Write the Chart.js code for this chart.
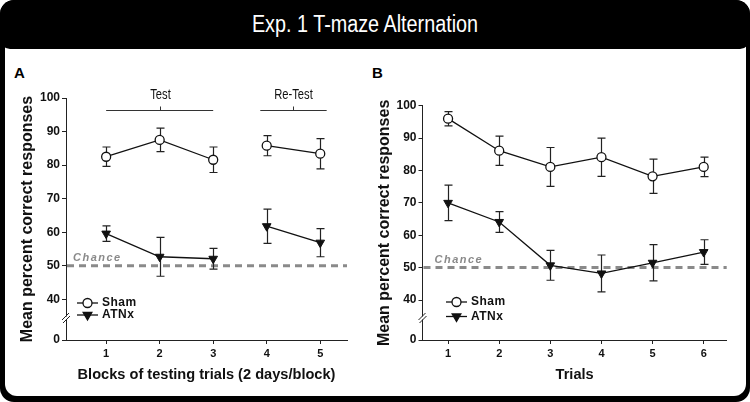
<!DOCTYPE html>
<html>
<head>
  <title>Exp. 1 T-maze Alternation</title>
  <script src="https://cdn.jsdelivr.net/npm/chart.js"></script>
  <style>
    body { margin: 0; background: #fff; }
    #frame { position: absolute; left: 0; top: 0; width: 750px; height: 402px; background: #000; border-radius: 14px; overflow: hidden; }
    #panel { position: absolute; left: 5px; top: 40px; width: 741px; height: 356px; background: #fff; border-radius: 0 0 12px 12px; }
    #titlebar { position: absolute; left: 0; top: 0; width: 750px; height: 49px; background: #000; border-radius: 14px 14px 10px 10px; }
    #titlebar span { position: absolute; left: 365px; top: 24px; white-space: nowrap; color: #fff;
      font: 23px "Liberation Sans Narrow", "Liberation Sans", Arial, sans-serif; transform: translate(-50%, -50%) scaleX(0.86); }
    canvas { position: absolute; top: 0; }
    .lbl { position: absolute; font: bold 15px "Liberation Sans", Arial, sans-serif; color: #000; }
  </style>
</head>
<body>
  <div id="frame">
    <div id="panel"></div>
    <div id="titlebar"><span>Exp. 1 T-maze Alternation</span></div>
    <div class="lbl" style="left:14px; top:64px;">A</div>
    <div class="lbl" style="left:372px; top:64px;">B</div>
    <canvas id="chartA" width="370" height="402" style="left:0px"></canvas>
    <canvas id="chartB" width="380" height="402" style="left:370px"></canvas>
  </div>

  <script>
    // panel A: blocks of testing trials
    const blocksA = [1, 2, 3, 4, 5];
    const shamA = [82.5, 87.5, 81.6, 85.8, 83.4];
    const shamSemA = [2.9, 3.5, 3.8, 3.0, 4.5];
    const atnxA = [59.6, 52.7, 52.1, 61.8, 56.9];
    const atnxSemA = [2.3, 5.8, 3.1, 5.1, 4.2];

    // panel B: trials
    const trialsB = [1, 2, 3, 4, 5, 6];
    const shamB = [96.0, 86.1, 81.1, 84.1, 78.2, 81.1];
    const shamSemB = [2.2, 4.5, 6.0, 5.9, 5.3, 3.0];
    const atnxB = [70.0, 64.1, 50.7, 48.2, 51.5, 54.8];
    const atnxSemB = [5.5, 3.2, 4.6, 5.7, 5.6, 3.8];

    const yTicks = [40, 50, 60, 70, 80, 90, 100];
    const chanceLevel = 50;
    const seriesNames = ["Sham", "ATNx"];

    const bracketLabels = ["Test", "Re-Test"];
    const bracketStart = [1, 3.88];
    const bracketEnd = [3, 5.12];

    const FONT = '"Liberation Sans", Arial, Helvetica, sans-serif';
    const INK = "#111";

    function drawMarker(ctx, style, x, y) {
      ctx.lineWidth = 1.3;
      ctx.strokeStyle = INK;
      ctx.beginPath();
      if (style === "circle") {
        ctx.fillStyle = "#fff";
        ctx.arc(x, y, 4.5, 0, Math.PI * 2);
      } else {
        const r = 5;
        ctx.fillStyle = INK;
        ctx.moveTo(x, y + r);
        ctx.lineTo(x - r * 0.866, y - r / 2);
        ctx.lineTo(x + r * 0.866, y - r / 2);
        ctx.closePath();
      }
      ctx.fill();
      ctx.stroke();
    }

    const extras = {
      id: "extras",
      beforeDatasetsDraw(chart, args, opts) {
        const { ctx, chartArea: a, scales: { x, y } } = chart;
        ctx.save();
        // chance line
        const cy = y.getPixelForValue(chanceLevel);
        ctx.strokeStyle = "#8a8a8a";
        ctx.lineWidth = 3;
        ctx.setLineDash([7, 5]);
        ctx.beginPath();
        ctx.moveTo(a.left + 1, cy);
        ctx.lineTo(a.right, cy);
        ctx.stroke();
        ctx.setLineDash([]);
        ctx.font = "italic bold 11px " + FONT;
        ctx.letterSpacing = "1.5px";
        ctx.fillStyle = "#8a8a8a";
        ctx.textBaseline = "alphabetic";
        ctx.fillText("Chance", a.left + opts.chanceDx, cy - 5);
        ctx.letterSpacing = "0px";

        // error bars
        ctx.strokeStyle = "#222";
        ctx.lineWidth = 1.2;
        chart.data.datasets.forEach(ds => {
          ds.data.forEach((p, i) => {
            const px = Math.round(x.getPixelForValue(p.x)) + 0.5;
            const t = y.getPixelForValue(p.y + ds.sem[i]);
            const b = y.getPixelForValue(p.y - ds.sem[i]);
            ctx.beginPath();
            ctx.moveTo(px, t); ctx.lineTo(px, b);
            ctx.moveTo(px - 4, t); ctx.lineTo(px + 4, t);
            ctx.moveTo(px - 4, b); ctx.lineTo(px + 4, b);
            ctx.stroke();
          });
        });
        ctx.restore();
      },
      afterDraw(chart, args, opts) {
        const { ctx, chartArea: a, scales: { x } } = chart;
        ctx.save();

        // legend
        chart.data.datasets.forEach((ds, i) => {
          const lx = a.left + opts.legendX;
          const ly = a.bottom - opts.legendY[i];
          ctx.strokeStyle = INK;
          ctx.lineWidth = 1.3;
          ctx.beginPath();
          ctx.moveTo(lx, ly); ctx.lineTo(lx + 21, ly);
          ctx.stroke();
          drawMarker(ctx, ds.pointStyle, lx + 10.5, ly);
          ctx.fillStyle = INK;
          ctx.font = "bold 12px " + FONT;
          ctx.letterSpacing = "0.5px";
          ctx.textBaseline = "middle";
          ctx.fillText(ds.label, lx + 25, ly);
          ctx.letterSpacing = "0px";
        });

        // axis break
        const bx = a.left;
        const by = a.bottom - opts.breakDy;
        ctx.fillStyle = "#fff";
        ctx.fillRect(bx - 2, by - 1.5, 4, 3);
        ctx.strokeStyle = "#222";
        ctx.lineWidth = 1;
        ctx.beginPath();
        ctx.moveTo(bx - 4, by + 2); ctx.lineTo(bx + 3, by - 5);
        ctx.moveTo(bx - 3, by + 5); ctx.lineTo(bx + 4, by - 2);
        ctx.stroke();

        // session brackets
        if (opts.brackets) {
          const ly = a.top + 12.5;
          bracketLabels.forEach((lab, i) => {
            const x0 = x.getPixelForValue(bracketStart[i]);
            const x1 = x.getPixelForValue(bracketEnd[i]);
            const xm = Math.round((x0 + x1) / 2) + 0.5;
            ctx.strokeStyle = "#333";
            ctx.lineWidth = 1;
            ctx.beginPath();
            ctx.moveTo(x0, ly); ctx.lineTo(x1, ly);
            ctx.moveTo(xm, ly); ctx.lineTo(xm, ly - 4);
            ctx.stroke();
            ctx.save();
            ctx.translate(xm, a.top - 3);
            ctx.scale(0.8, 1);
            ctx.fillStyle = INK;
            ctx.font = "14px " + FONT;
            ctx.textAlign = "center";
            ctx.textBaseline = "middle";
            ctx.fillText(lab, 0, 0);
            ctx.restore();
          });
        }
        ctx.restore();
      }
    };

    function buildChart(id, o) {
      const gap = c => (c.p0.parsed.x === o.gapAfter ? "rgba(0,0,0,0)" : undefined);
      return new Chart(document.getElementById(id), {
        type: "line",
        data: {
          datasets: [
            {
              label: seriesNames[0],
              data: o.x.map((v, i) => ({ x: v, y: o.sham[i] })),
              sem: o.shamSem,
              borderColor: INK, borderWidth: 1.3,
              pointStyle: "circle", pointRadius: 4.5,
              pointBackgroundColor: "#fff", pointBorderColor: INK, pointBorderWidth: 1.3,
              segment: { borderColor: gap }
            },
            {
              label: seriesNames[1],
              data: o.x.map((v, i) => ({ x: v, y: o.atnx[i] })),
              sem: o.atnxSem,
              borderColor: INK, borderWidth: 1.3,
              pointStyle: "triangle", pointRotation: 180, pointRadius: 5,
              pointBackgroundColor: INK, pointBorderColor: INK, pointBorderWidth: 1,
              segment: { borderColor: gap }
            }
          ]
        },
        options: {
          responsive: false,
          animation: false,
          layout: { padding: o.padding },
          plugins: {
            legend: { display: false },
            tooltip: { enabled: false },
            extras: o.extras
          },
          scales: {
            x: {
              type: "linear",
              min: o.xMin, max: o.xMax,
              afterBuildTicks: s => { s.ticks = o.x.map(v => ({ value: v })); },
              afterFit: s => { s.height = 52; },
              grid: { drawOnChartArea: false, tickLength: 4, color: "#222" },
              border: { color: "#222" },
              ticks: { color: INK, padding: 3, font: { family: FONT, size: 11, weight: "bold" } },
              title: { display: true, text: o.xTitle, color: INK, padding: { top: 0, bottom: 8 },
                font: { family: FONT, size: 14.6, weight: "bold" } }
            },
            y: {
              min: o.yMin, max: 100,
              afterBuildTicks: s => { s.ticks = [o.yMin].concat(yTicks).map(v => ({ value: v })); },
              afterFit: s => { s.width = o.yWidth; },
              grid: { drawOnChartArea: false, tickLength: 4, color: "#222" },
              border: { color: "#222" },
              ticks: {
                color: INK, padding: 2, font: { family: FONT, size: 12, weight: "bold" },
                callback: v => (v === o.yMin ? "0" : v)
              },
              title: { display: true, text: "Mean percent correct responses", color: INK,
                padding: { top: o.yTitlePad, bottom: 0 }, font: { family: FONT, size: 16, weight: "bold" } }
            }
          }
        },
        plugins: [extras]
      });
    }

    buildChart("chartA", {
      x: blocksA, sham: shamA, shamSem: shamSemA, atnx: atnxA, atnxSem: atnxSemA,
      gapAfter: 3, xMin: 0.25, xMax: 5.5, yMin: 27.9,
      xTitle: "Blocks of testing trials (2 days/block)",
      padding: { left: 8, right: 23, top: 98, bottom: 10 },
      yWidth: 58, yTitlePad: 10.4,
      extras: { chanceDx: 7, legendX: 11, legendY: [37, 25], breakDy: 22, brackets: true }
    });

    buildChart("chartB", {
      x: trialsB, sham: shamB, shamSem: shamSemB, atnx: atnxB, atnxSem: atnxSemB,
      gapAfter: null, xMin: 0.5, xMax: 6.45, yMin: 27.65,
      xTitle: "Trials",
      padding: { left: 4, right: 23.3, top: 105.7, bottom: 10 },
      yWidth: 48.5, yTitlePad: 1.4,
      extras: { chanceDx: 12, legendX: 23.5, legendY: [38, 23.5], breakDy: 22, brackets: false }
    });
  </script>
</body>
</html>
